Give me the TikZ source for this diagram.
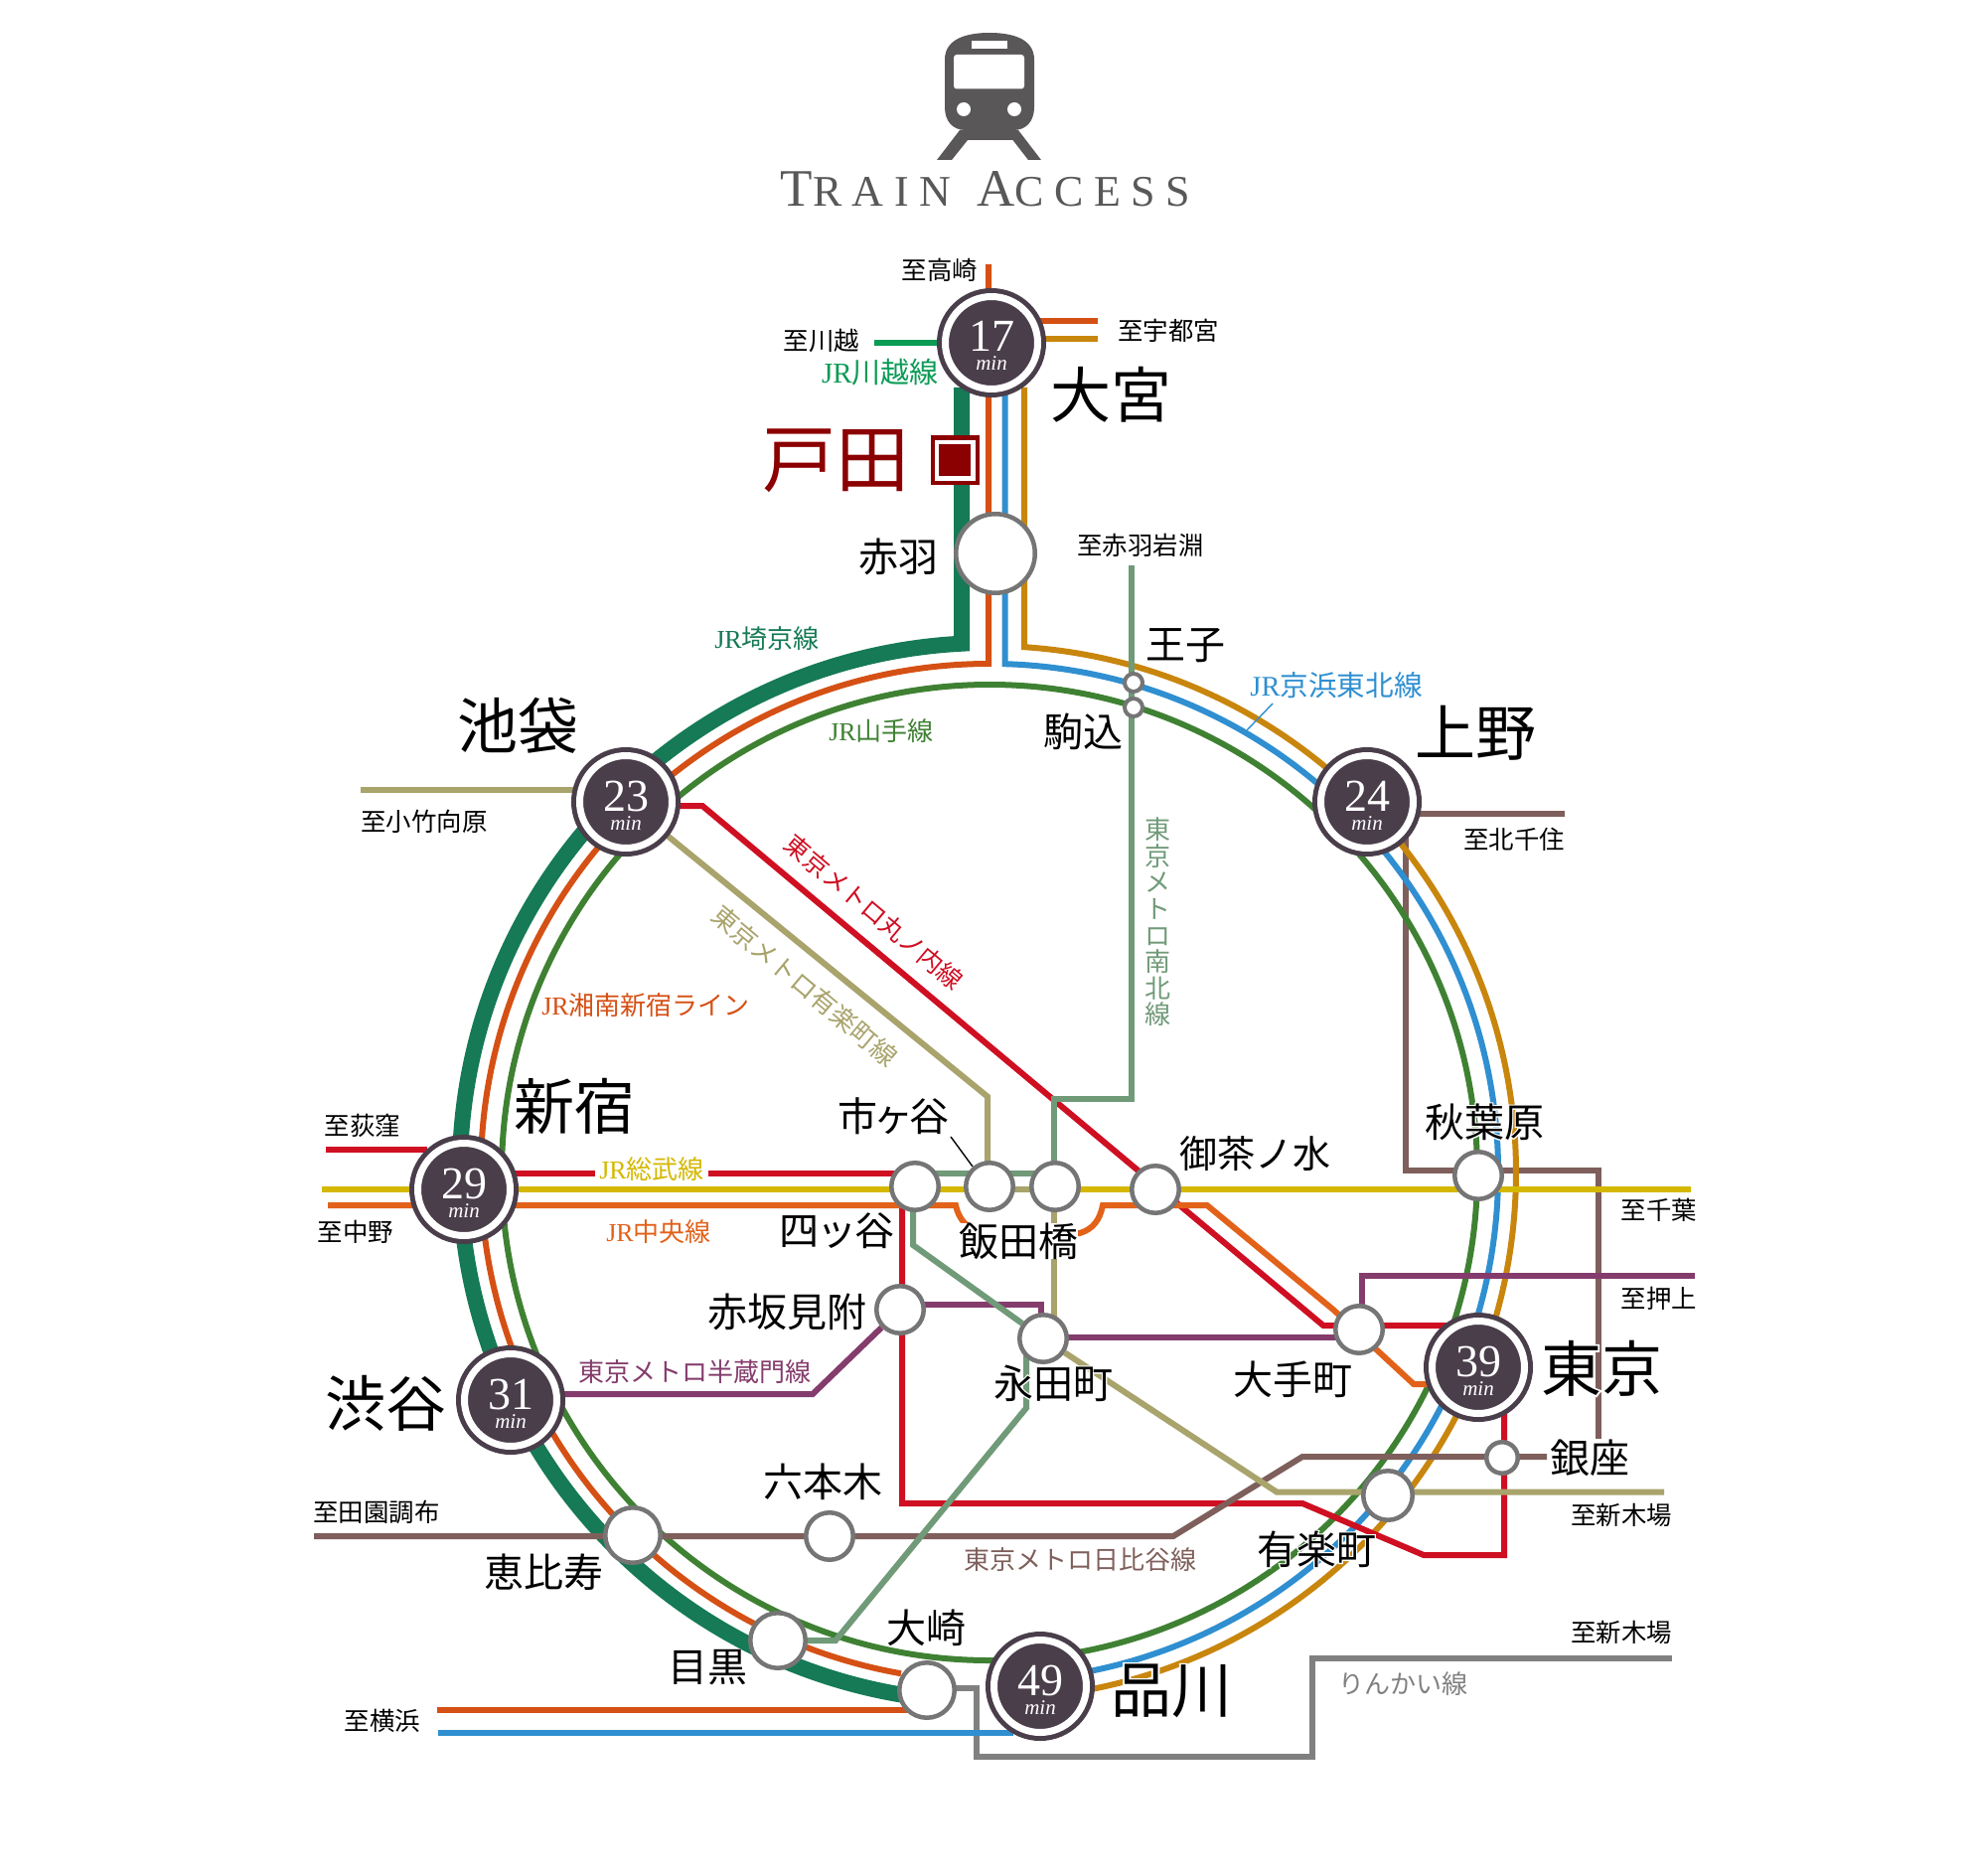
\documentclass[tikz,border=0pt]{standalone}
\usepackage{fontspec}
\usepackage{tikz}
\usetikzlibrary{backgrounds}
\setmainfont{Liberation Serif}
\newfontfamily\jpfont{Noto Sans CJK JP}
\newfontfamily\titlefont[LetterSpace=24]{Liberation Serif}
\definecolor{saikyoCol}{HTML}{157A55}
\definecolor{shonanCol}{HTML}{D55014}
\definecolor{keihinCol}{HTML}{2F8FD0}
\definecolor{utsuCol}{HTML}{C8860D}
\definecolor{yamaCol}{HTML}{3F8133}
\definecolor{kawaCol}{HTML}{0A9B55}
\definecolor{maruCol}{HTML}{CF0F22}
\definecolor{sobuCol}{HTML}{D4B800}
\definecolor{chuoCol}{HTML}{E2621A}
\definecolor{yuraCol}{HTML}{A9A36C}
\definecolor{namCol}{HTML}{709A78}
\definecolor{hanCol}{HTML}{843C6C}
\definecolor{hibiCol}{HTML}{7E5F5B}
\definecolor{rinCol}{HTML}{808080}
\definecolor{stopCol}{HTML}{757575}
\definecolor{timeCol}{HTML}{4A3E4B}
\definecolor{todaCol}{HTML}{8B0000}
\definecolor{iconCol}{HTML}{595757}
\newcommand{\jr}{{\rmfamily JR}}
\newcommand{\halo}[1]{\leavevmode\rlap{\addfontfeature{FakeBold=6}\color{white}#1}#1}
\newcommand{\mins}[1]{{\fontsize{23}{23}\selectfont\rule{0pt}{18.5pt}#1}\\[-2.5pt]{\fontsize{10.5}{10.5}\selectfont\itshape min}}
\tikzset{
	rail/.style={line width=3pt},
	stopnode/.style={circle, draw=stopCol, fill=white, line width=2.25pt, inner sep=0pt, minimum size=23.75pt},
	timenode/.style={circle, draw=timeCol, double=white, double distance=3.5pt, line width=2.5pt, fill=timeCol, text=white, inner sep=0pt, minimum size=46.5pt, align=center, font=\rmfamily},
	biglabel/.style={font=\jpfont\fontsize{30.5}{30.5}\selectfont, inner sep=0pt},
	midlabel/.style={font=\jpfont\fontsize{20}{20}\selectfont, inner sep=0pt},
	smalllabel/.style={font=\jpfont\fontsize{12.7}{12.7}\selectfont, inner sep=0pt},
	linelabel/.style={font=\jpfont\fontsize{13}{13.3}\selectfont, inner sep=0pt}
}
\begin{document}
\begin{tikzpicture}[x=0.5pt, y=0.5pt, yscale=-1]
	\useasboundingbox (0, 0) rectangle (1991, 1888);
	\coordinate (ringCenter) at (996, 1180);

	\node[timenode] (stOmiya) at (998, 345) {\mins{17}};
	\node[timenode] (stIkebukuro) at (630, 807) {\mins{23}};
	\node[timenode] (stUeno) at (1376, 807) {\mins{24}};
	\node[timenode] (stShinjuku) at (467, 1197) {\mins{29}};
	\node[timenode] (stShibuya) at (514, 1409) {\mins{31}};
	\node[timenode] (stTokyo) at (1488, 1376) {\mins{39}};
	\node[timenode] (stShinagawa) at (1047, 1697) {\mins{49}};

	\node[stopnode, minimum size=39.75pt] (stAkabane) at (1002, 557) {};
	\node[stopnode, minimum size=9pt, line width=2pt] (stOji) at (1141, 687) {};
	\node[stopnode, minimum size=9pt, line width=2pt] (stKomagome) at (1141, 712) {};
	\node[stopnode] (stYotsuya) at (921, 1194) {};
	\node[stopnode] (stIchigaya) at (996, 1194) {};
	\node[stopnode] (stIidabashi) at (1062, 1194) {};
	\node[stopnode] (stOchanomizu) at (1163, 1197) {};
	\node[stopnode] (stAkihabara) at (1488, 1183) {};
	\node[stopnode] (stOtemachi) at (1368, 1338) {};
	\node[stopnode] (stNagatacho) at (1050, 1347) {};
	\node[stopnode] (stAkasaka) at (906, 1318) {};
	\node[stopnode, minimum size=15.75pt] (stGinza) at (1512, 1467) {};
	\node[stopnode, minimum size=24.75pt] (stYurakucho) at (1397, 1505) {};
	\node[stopnode] (stRoppongi) at (835, 1546) {};
	\node[stopnode, minimum size=27.75pt] (stEbisu) at (637, 1545) {};
	\node[stopnode, minimum size=27.75pt] (stMeguro) at (783, 1651) {};
	\node[stopnode, minimum size=27.75pt] (stOsaki) at (933, 1701) {};
	\node[draw=todaCol, fill=white, line width=2pt, inner sep=0pt, minimum size=22.5pt] (stToda) at (961, 463) {};
	\node[fill=todaCol, inner sep=0pt, minimum size=16pt] (stTodaCore) at (961, 463) {};

	\coordinate (endTakasaki) at (995, 266);
	\coordinate (endUtsuOrange) at (1105, 323);
	\coordinate (endUtsuGold) at (1105, 341);
	\coordinate (endKawagoe) at (880, 345);
	\coordinate (endKotake) at (363, 795);
	\coordinate (endKitasenju) at (1575, 819);
	\coordinate (endIwabuchi) at (1139, 569);
	\coordinate (endOgikubo) at (328, 1157);
	\coordinate (endNakano) at (330, 1213);
	\coordinate (endSobu) at (324, 1197);
	\coordinate (endChiba) at (1702, 1197);
	\coordinate (endOshiage) at (1706, 1284);
	\coordinate (endDenen) at (316, 1546);
	\coordinate (endYokoOrange) at (440, 1721);
	\coordinate (endYokoBlue) at (441, 1744);
	\coordinate (endShinkiba) at (1675, 1501.5);
	\coordinate (endRinkai) at (1683, 1669);

	\begin{pgfonlayer}{background}
		\draw[rinCol, rail] (933, 1699) -- (983, 1699) -- (983, 1768) -- (1321, 1768) -- (1321, 1669) -- (endRinkai);
		\draw[hibiCol, rail] (endKitasenju) -- (1400, 819);
		\draw[hibiCol, rail] (1414.6, 835) -- (1414.6, 1177.5) -- (1609, 1177.5) -- (1609, 1448);
		\draw[saikyoCol, line width=8pt] (968, 390) -- (968, 647.7) arc[start angle=267, end angle=98, radius=533];
		\draw[shonanCol, rail] (endTakasaki) -- (995, 668) arc[start angle=269.9, end angle=100, radius=512];
		\draw[keihinCol, rail] (1011.5, 390) -- (1011.5, 668.2) arc[start angle=271.73, end angle=440, radius=512];
		\draw[utsuCol, rail] (1031, 390) -- (1031, 651.2) arc[start angle=273.79, end angle=440, radius=530];
		\draw[yamaCol, rail] (ringCenter) circle (491);
		\draw[shonanCol, rail] (1030, 323) -- (endUtsuOrange);
		\draw[utsuCol, rail] (1030, 341) -- (endUtsuGold);
		\draw[kawaCol, rail] (endKawagoe) -- (stOmiya);
		\draw[shonanCol, rail] (endYokoOrange) -- (920, 1721);
		\draw[keihinCol, rail] (endYokoBlue) -- (1020, 1744);
		\draw[yuraCol, rail] (endKotake) -- (600, 795);
		\draw[hanCol, rail] (stShibuya.center |- 0, 1403) -- (818, 1403) -- (stAkasaka);
		\draw[hanCol, rail] (906, 1313) -- (1048, 1313) -- (1048, 1347);
		\draw[hanCol, rail] (1050, 1346) -- (1368, 1346);
		\draw[hanCol, rail] (1371, 1338) -- (1371, 1284) -- (endOshiage);
		\draw[maruCol, rail] (endOgikubo) -- (430, 1157);
		\draw[maruCol, rail] (stShinjuku.center |- 0, 1181) -- (921, 1181);
		\draw[maruCol, rail] (660, 811) -- (707, 811) -- (1332, 1334) -- (1470, 1334);
		\draw[maruCol, rail] (1514, 1400) -- (1514, 1565) -- (1433, 1565) -- (1311, 1513) -- (908, 1513) -- (908, 1194);
		\draw[hibiCol, rail] (endDenen) -- (1181, 1546) -- (1311, 1466) -- (1557, 1466);
		\draw[sobuCol, rail] (endSobu) -- (endChiba);
		\draw[chuoCol, rail] (endNakano) -- (962, 1213) .. controls (965, 1228) and (975, 1237) .. (987, 1241) -- (1087, 1241) .. controls (1100, 1237) and (1107, 1228) .. (1110, 1213) -- (1215, 1213) -- (1342, 1318) -- (1423, 1393) -- (1445, 1393);
		\draw[yuraCol, rail] (stIkebukuro) -- (994, 1103.6) -- (994, 1194);
		\draw[yuraCol, rail] (996, 1197) -- (1062, 1197);
		\draw[yuraCol, rail] (1061, 1194) -- (1061, 1346);
		\draw[yuraCol, rail] (stNagatacho) -- (1285, 1501.5) -- (endShinkiba);
		\draw[namCol, rail] (endIwabuchi) -- (1139, 1106) -- (1061, 1106) -- (1061, 1194);
		\draw[namCol, rail] (1062, 1181) -- (921, 1181);
		\draw[namCol, rail] (919, 1194) -- (919, 1253) -- (stNagatacho);
		\draw[namCol, rail] (1033, 1347) -- (1033, 1417) -- (841, 1651) -- (783, 1651);
	\end{pgfonlayer}

	\draw[fill=iconCol, draw=none] (951, 60) .. controls (951, 38) and (975, 33) .. (996, 33) .. controls (1017, 33) and (1041, 38) .. (1041, 60) -- (1041, 108) .. controls (1041, 122) and (1033, 131) .. (1020, 131) -- (972, 131) .. controls (959, 131) and (951, 122) .. (951, 108) -- cycle;
	\draw[fill=white, draw=none, rounded corners=1.5pt] (960, 55) rectangle (1031, 89.5);
	\draw[fill=white, draw=none] (978, 41) rectangle (1014, 49);
	\draw[fill=white, draw=none] (970, 110) circle (7);
	\draw[fill=white, draw=none] (1021, 110) circle (7);
	\draw[fill=iconCol, draw=none] (966, 131) -- (943, 161) -- (958, 161) -- (974, 141) -- (1019.5, 141) -- (1035, 161) -- (1048, 161) -- (1025, 131) -- cycle;
	\node[text=iconCol, inner sep=0pt] (titleText) at (992, 190) {\titlefont{\fontsize{26.5}{26.5}\selectfont T}{\fontsize{22}{22}\selectfont RAIN}\hspace{13pt}{\fontsize{26.5}{26.5}\selectfont A}{\fontsize{22}{22}\selectfont CCESS}};

	\node[biglabel] (lbOmiya) at (1118, 397) {大宮};
	\node[biglabel] (lbIkebukuro) at (521, 730) {池袋};
	\node[biglabel] (lbUeno) at (1485, 738) {上野};
	\node[biglabel] (lbShinjuku) at (578, 1113) {新宿};
	\node[biglabel] (lbShibuya) at (388, 1412) {渋谷};
	\node[biglabel] (lbTokyo) at (1612, 1377) {\halo{東京}};
	\node[biglabel] (lbShinagawa) at (1179, 1702) {\halo{品川}};
	\node[biglabel, text=todaCol, font=\jpfont\fontsize{37}{37}\selectfont] (lbToda) at (841, 464) {戸田};

	\node[midlabel] (lbAkabane) at (904, 560) {赤羽};
	\node[midlabel] (lbOji) at (1193, 650) {王子};
	\node[midlabel] (lbKomagome) at (1090, 736) {駒込};
	\node[midlabel] (lbAkihabara) at (1494, 1129) {\halo{秋葉原}};
	\node[midlabel, font=\jpfont\fontsize{19}{19}\selectfont] (lbOchanomizu) at (1263, 1161) {御茶ノ水};
	\node[midlabel] (lbIchigaya) at (899, 1123) {市\hspace{-2pt}ヶ\hspace{-2pt}谷};
	\node[midlabel] (lbYotsuya) at (842, 1239) {四\hspace{-1pt}ッ\hspace{-1pt}谷};
	\node[midlabel, fill=white] (lbIidabashi) at (1025, 1249) {飯田橋};
	\node[midlabel] (lbAkasaka) at (792, 1320) {赤坂見附};
	\node[midlabel] (lbNagatacho) at (1060, 1392) {\halo{永田町}};
	\node[midlabel] (lbOtemachi) at (1301, 1388) {大手町};
	\node[midlabel] (lbGinza) at (1600, 1467) {\halo{銀座}};
	\node[midlabel] (lbRoppongi) at (828, 1491) {六本木};
	\node[midlabel] (lbYurakucho) at (1325, 1559) {\halo{有楽町}};
	\node[midlabel] (lbEbisu) at (547, 1582) {恵比寿};
	\node[midlabel] (lbMeguro) at (712, 1678) {目黒};
	\node[midlabel] (lbOsaki) at (932, 1638) {大崎};

	\node[smalllabel] (toTakasaki) at (946, 272) {至高崎};
	\node[smalllabel] (toUtsunomiya) at (1176, 333) {至宇都宮};
	\node[smalllabel] (toKawagoe) at (827, 343) {至川越};
	\node[smalllabel] (toIwabuchi) at (1148, 549) {至赤羽岩淵};
	\node[smalllabel] (toKotake) at (427, 827) {至小竹向原};
	\node[smalllabel] (toKitasenju) at (1524, 845) {至北千住};
	\node[smalllabel] (toOgikubo) at (365, 1133) {至荻窪};
	\node[smalllabel] (toNakano) at (358, 1240) {至中野};
	\node[smalllabel] (toChiba) at (1670, 1218) {至千葉};
	\node[smalllabel] (toOshiage) at (1670, 1307) {至押上};
	\node[smalllabel] (toShinkibaA) at (1632, 1525) {至新木場};
	\node[smalllabel] (toDenen) at (379, 1522) {至田園調布};
	\node[smalllabel] (toShinkibaB) at (1632, 1643) {至新木場};
	\node[smalllabel] (toYokohama) at (385, 1732) {至横浜};

	\node[linelabel, text=kawaCol, font=\jpfont\fontsize{14.5}{14.5}\selectfont] (nmKawagoe) at (886, 375) {\jr 川越線};
	\node[linelabel, text=saikyoCol] (nmSaikyo) at (772, 643) {\jr 埼京線};
	\node[linelabel, text=yamaCol] (nmYamanote) at (887, 736) {\jr 山手線};
	\node[linelabel, text=keihinCol, font=\jpfont\fontsize{14.3}{14.3}\selectfont] (nmKeihin) at (1345, 690) {\jr 京浜東北線};
	\node[linelabel, text=shonanCol] (nmShonan) at (650, 1012) {\jr 湘南新宿ライン};
	\node[linelabel, text=sobuCol, fill=white, inner xsep=2pt, inner ysep=1pt] (nmSobu) at (656, 1177) {\jr 総武線};
	\node[linelabel, text=chuoCol] (nmChuo) at (663, 1240) {\jr 中央線};
	\node[linelabel, text=maruCol, rotate=-40, font=\jpfont\fontsize{12.5}{12.5}\selectfont] (nmMaru) at (880, 918) {東京メトロ丸ノ内線};
	\node[linelabel, text=yuraCol, rotate=-40] (nmYura) at (810, 992) {東京メトロ有楽町線};
	\node[linelabel, text=namCol, align=center] (nmNamboku) at (1165, 928) {東\\京\\メ\\ト\\ロ\\南\\北\\線};
	\node[linelabel, text=hanCol] (nmHanzomon) at (699, 1381) {東京メトロ半蔵門線};
	\node[linelabel, text=hibiCol] (nmHibiya) at (1087, 1570) {東京メトロ日比谷線};
	\node[linelabel, text=rinCol] (nmRinkai) at (1412, 1695) {りんかい線};

	\coordinate (leadIchiA) at (957, 1144);
	\coordinate (leadIchiB) at (979, 1174);
	\coordinate (leadKeiA) at (1281, 708);
	\coordinate (leadKeiB) at (1255, 735);
	\draw[line width=0.7pt] (leadIchiA) -- (leadIchiB);
	\draw[keihinCol, line width=0.7pt] (leadKeiA) -- (leadKeiB);
\end{tikzpicture}
\end{document}
